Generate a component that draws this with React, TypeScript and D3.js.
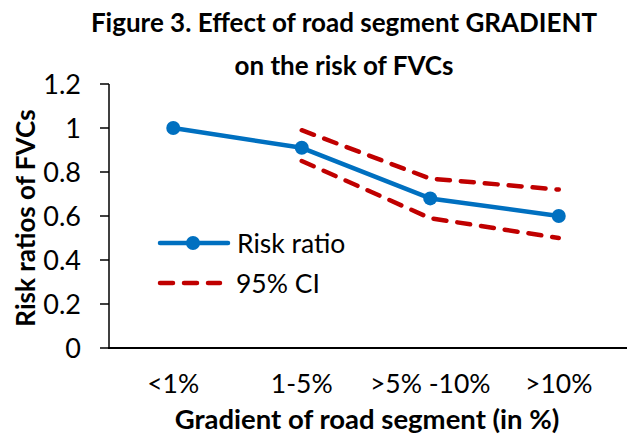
import React from 'react';
import * as d3 from 'd3';

const categories = ['<1%', '1-5%', '>5% -10%', '>10%'];
const riskRatio = [1.0, 0.91, 0.68, 0.6];
const ciUpper = [null, 0.99, 0.77, 0.72];
const ciLower = [null, 0.85, 0.59, 0.5];
const yTicks = [0, 0.2, 0.4, 0.6, 0.8, 1, 1.2];

const width = 627;
const height = 435;
const font = 'Lato, "Open Sans", sans-serif';
const blue = '#0070C0';
const red = '#C00000';

const App = () => {
  const x = d3.scaleBand().domain(categories).range([109, 623]).padding(0);
  const y = d3.scaleLinear().domain([0, 1.2]).range([348, 84]);
  const cx = (c: string) => (x(c) || 0) + x.bandwidth() / 2;

  const line = d3
    .line<[string, number | null]>()
    .defined((d) => d[1] != null)
    .x((d) => cx(d[0]))
    .y((d) => y(d[1] as number));

  const rrPath = line(categories.map((c, i) => [c, riskRatio[i]])) || undefined;
  const upPath = line(categories.map((c, i) => [c, ciUpper[i]])) || undefined;
  const loPath = line(categories.map((c, i) => [c, ciLower[i]])) || undefined;

  return (
    <svg
      width={width}
      height={height}
      style={{ position: 'absolute', left: 0, top: 0, background: '#fff' }}
      fontFamily={font}
    >
      {/* title */}
      <text x={344} y={32} textAnchor="middle" fontSize={26} fontWeight="bold">
        Figure 3. Effect of road segment GRADIENT
      </text>
      <text x={344} y={75} textAnchor="middle" fontSize={26} fontWeight="bold">
        on the risk of FVCs
      </text>

      {/* y axis */}
      <line x1={109} x2={109} y1={y(1.2)} y2={y(0)} stroke="#000" strokeWidth={1.5} />
      {yTicks.map((t) => (
        <g key={t}>
          <line x1={100} x2={109} y1={y(t)} y2={y(t)} stroke="#000" strokeWidth={1.5} />
          <text x={81} y={y(t)} dy="0.36em" textAnchor="end" fontSize={27}>
            {String(t)}
          </text>
        </g>
      ))}
      <text
        transform={`translate(35, 218) rotate(-90)`}
        textAnchor="middle"
        fontSize={26}
        fontWeight="bold"
      >
        Risk ratios of FVCs
      </text>

      {/* x axis */}
      <line x1={108} x2={627} y1={y(0)} y2={y(0)} stroke="#000" strokeWidth={2} />
      {categories.map((c) => (
        <text key={c} x={cx(c)} y={393} textAnchor="middle" fontSize={26.5}>
          {c}
        </text>
      ))}
      <text x={367} y={429} textAnchor="middle" fontSize={27.5} fontWeight="bold">
        Gradient of road segment (in %)
      </text>

      {/* series */}
      <path d={upPath} fill="none" stroke={red} strokeWidth={4.5} strokeDasharray="13,11" strokeLinecap="round" />
      <path d={loPath} fill="none" stroke={red} strokeWidth={4.5} strokeDasharray="13,11" strokeLinecap="round" />
      <path d={rrPath} fill="none" stroke={blue} strokeWidth={4.5} strokeLinejoin="round" />
      {categories.map((c, i) => (
        <circle key={c} cx={cx(c)} cy={y(riskRatio[i])} r={7} fill={blue} />
      ))}

      {/* legend */}
      <line x1={160} x2={228} y1={243} y2={243} stroke={blue} strokeWidth={4.5} strokeLinecap="round" />
      <circle cx={193} cy={243} r={7} fill={blue} />
      <text x={237} y={243} dy="0.36em" fontSize={26.5}>
        Risk ratio
      </text>
      <line x1={160} x2={220} y1={283} y2={283} stroke={red} strokeWidth={4.5} strokeDasharray="13,11" strokeLinecap="round" />
      <text x={236} y={283} dy="0.36em" fontSize={26.5}>
        95% CI
      </text>
    </svg>
  );
};

export default App;
